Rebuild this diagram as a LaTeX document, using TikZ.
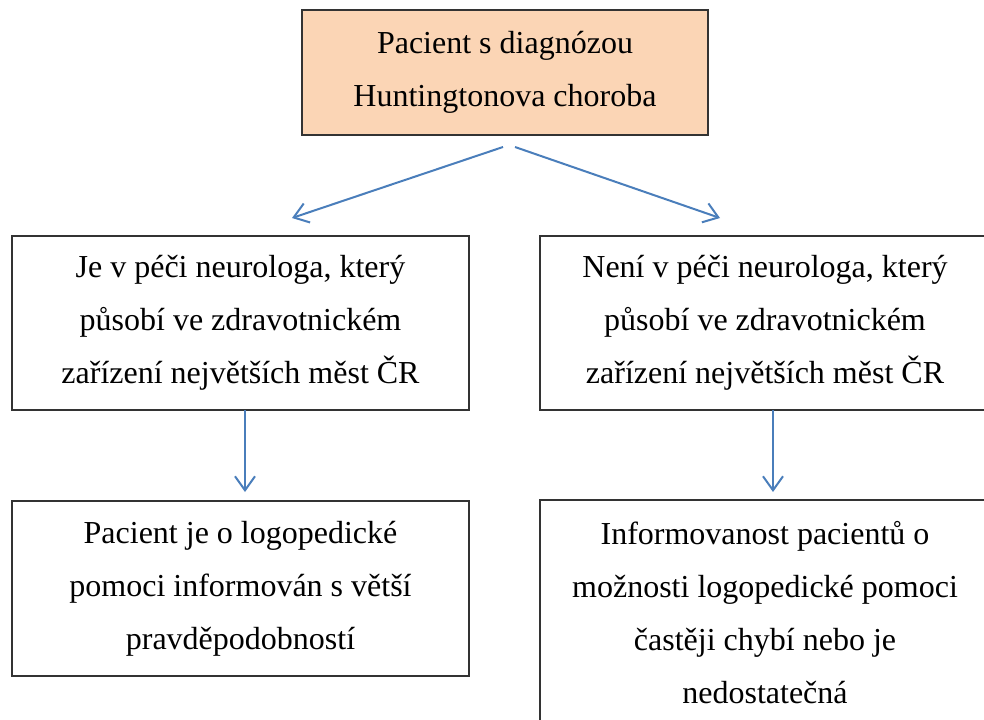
\documentclass[tikz,border=0pt]{standalone}
\usepackage{fontspec}
\setmainfont{Liberation Serif}
\usetikzlibrary{arrows.meta}
\definecolor{peach}{HTML}{FBD5B5}
\definecolor{arrblue}{HTML}{4A7EBB}
\begin{document}
\begin{tikzpicture}[x=0.5pt, y=-0.5pt, every node/.style={draw=black!80, line width=0.8pt, align=center, inner sep=0pt, font=\fontsize{16}{26.5}\selectfont}, arr/.style={draw=arrblue, line width=1pt, -{Straight Barb[length=7pt,width=10pt]}}]
	\useasboundingbox (0,0) rectangle (984,719);
	\clip (0,0) rectangle (984,719);
	\node[fill=peach, minimum width=203pt, minimum height=62.5pt] (top) at (505,72.5) {Pacient s diagnózou\\Huntingtonova choroba};
	\node[minimum width=228.5pt, minimum height=87pt] (midL) at (240.5,323) {Je v péči neurologa, který\\působí ve zdravotnickém\\zařízení největších měst ČR};
	\node[minimum width=225pt, minimum height=87pt] (midR) at (765,323) {Není v péči neurologa, který\\působí ve zdravotnickém\\zařízení největších měst ČR};
	\node[minimum width=228.5pt, minimum height=87.5pt] (botL) at (240.5,588.5) {Pacient je o logopedické\\pomoci informován s větší\\pravděpodobností};
	\node[minimum width=225pt, minimum height=113pt] (botR) at (765,613) {Informovanost pacientů o\\možnosti logopedické pomoci\\častěji chybí nebo je\\nedostatečná};
	\coordinate (sL) at (503,147);
	\coordinate (sR) at (515,147);
	\coordinate (tL) at (292,218);
	\coordinate (tR) at (720,218);
	\coordinate (dL) at (245,410);
	\coordinate (dR) at (773,410);
	\coordinate (eL) at (245,492);
	\coordinate (eR) at (773,492);
	\draw[arr] (sL) -- (tL);
	\draw[arr] (sR) -- (tR);
	\draw[arr] (dL) -- (eL);
	\draw[arr] (dR) -- (eR);
\end{tikzpicture}
\end{document}
